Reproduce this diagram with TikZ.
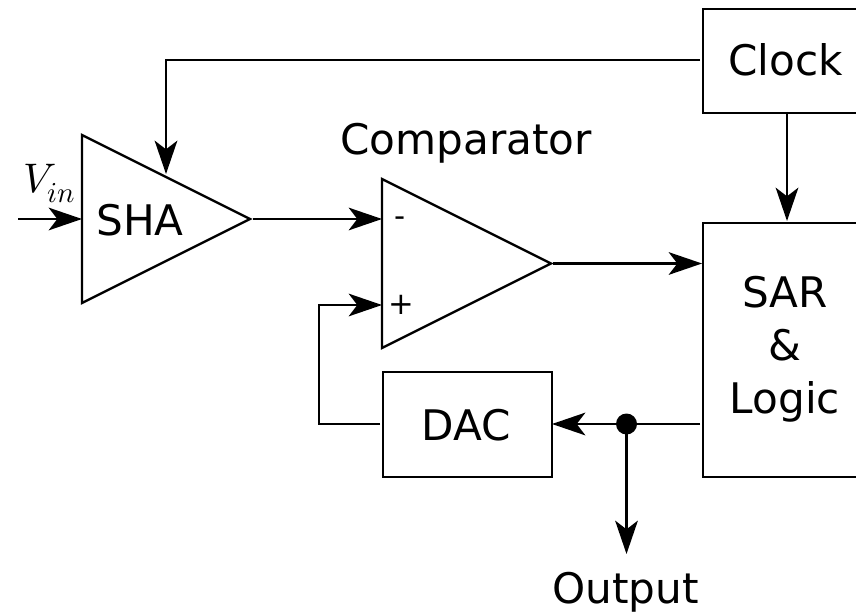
\documentclass[tikz,border=0pt]{standalone}
\usepackage{fontspec}
\setmainfont{DejaVu Sans}
\usepackage{unicode-math}
\setmathfont{Latin Modern Math}
\usetikzlibrary{arrows.meta}
\newlength{\pxl}
\setlength{\pxl}{0.75pt}
\tikzset{
 x=\pxl,y=-\pxl,
 ln/.style={line width=1.7pt,black},
 arr/.style={ln,-{Stealth[length=25pt,width=17pt,inset=6.5pt]}},
 block/.style={draw,line width=1.7pt,rectangle,inner sep=0pt,anchor=north west},
 lbl/.style={font=\fontsize{31.6}{39.75}\selectfont,inner sep=0pt,align=center,anchor=base}
}
\begin{document}
\begin{tikzpicture}
\useasboundingbox (0,0) rectangle (856,613);
\node[block,minimum width=170\pxl,minimum height=104\pxl] (clock) at (702,8) {};
\node[lbl] (clocklbl) at (785.5,76) {Clock};
\node[block,minimum width=170\pxl,minimum height=254\pxl] (sar) at (702,222) {};
\node[lbl] (sarlbl) at (785,413) {SAR\\\&\\Logic};
\node[block,minimum width=169\pxl,minimum height=105\pxl] (dac) at (382,371) {};
\node[lbl] (daclbl) at (466,440) {DAC};
\draw[ln,fill=white] (82,135) -- (250,219) -- (82,303) -- cycle;
\draw[ln,fill=white] (382,179) -- (551,263.5) -- (382,348) -- cycle;
\coordinate (sha) at (82,219);
\coordinate (shaout) at (253,219);
\coordinate (minus) at (382,219);
\coordinate (plus) at (382,305);
\coordinate (cmpout) at (553,263.5);
\node[lbl] (shalbl) at (140,235) {SHA};
\node[lbl] (cmplbl) at (466,155) {Comparator};
\node[lbl] (outlbl) at (625.5,603) {Output};
\node[font=\fontsize{31}{36}\selectfont,inner sep=0pt,anchor=base] (vinlbl) at (49.5,192) {$V_{in}$};
\node[font=\fontsize{23}{26}\selectfont,inner sep=0pt] (mn) at (400,222) {-};
\node[font=\fontsize{23}{26}\selectfont,inner sep=0pt] (pl) at (401.5,305) {+};
\coordinate (vin) at (18,219);
\coordinate (sarin) at (702,263.5);
\coordinate (ck) at (700,60);
\coordinate (ckturn) at (166,60);
\coordinate (shatop) at (166,174);
\coordinate (ckb) at (787,112);
\coordinate (sart) at (787,221);
\coordinate (sarl) at (700,424);
\coordinate (dacr) at (552,424);
\coordinate (dacl) at (380,424);
\coordinate (t1) at (319,424);
\coordinate (t2) at (319,305);
\coordinate (dot) at (626.5,424);
\coordinate (out) at (626.5,554);
\draw[arr] (vin) -- (sha);
\draw[arr] (shaout) -- (minus);
\draw[arr] (cmpout) -- (sarin);
\draw[arr] (ck) -- (ckturn) -- (shatop);
\draw[arr] (ckb) -- (sart);
\draw[arr] (sarl) -- (dacr);
\draw[arr] (dacl) -- (t1) -- (t2) -- (plus);
\fill (dot) circle (10.5);
\draw[arr] (dot) -- (out);
\end{tikzpicture}
\end{document}
